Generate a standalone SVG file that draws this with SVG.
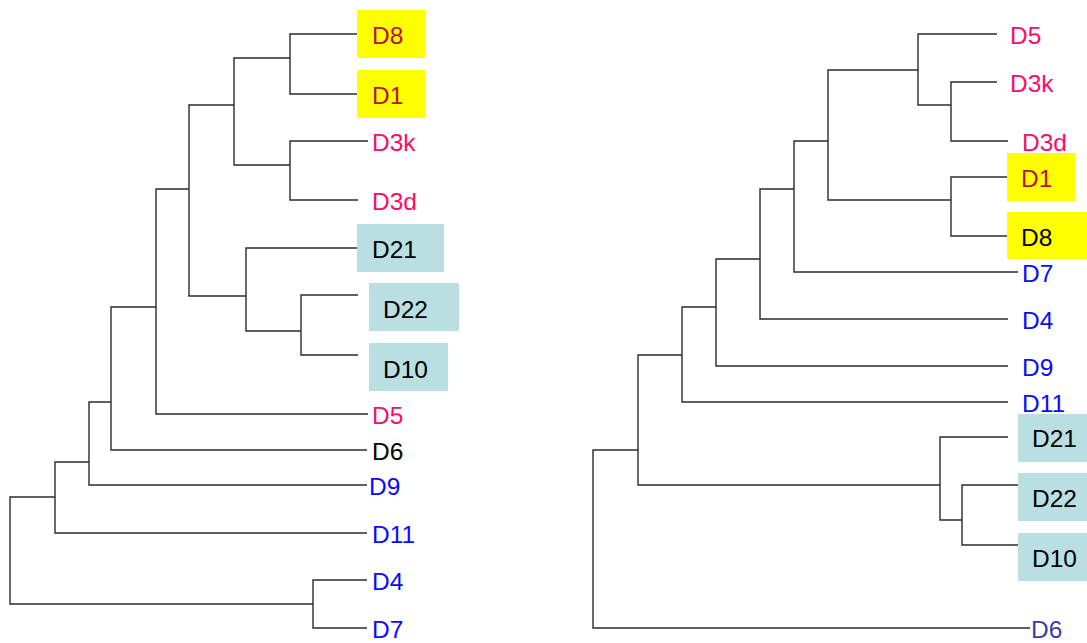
<svg xmlns="http://www.w3.org/2000/svg" width="1087" height="643" viewBox="0 0 1087 643">
  <style>
    .br { fill: none; stroke: #2b2b2b; stroke-width: 1.4; }
    text { font-family: "Liberation Sans", Arial, sans-serif; font-size: 24.5px; }
    .red { fill: #b8103c; }
    .pink { fill: #ff0a66; }
    .blue { fill: #0a0aff; }
    .black { fill: #000000; }
    .indigo { fill: #3b3bab; }
    .hy { fill: #ffff00; }
    .ht { fill: #b9dfe2; }
  </style>
  <rect width="1087" height="643" fill="#ffffff"/>

  <!-- left dendrogram: branches -->
  <g id="left-connectors">
    <path class="br" d="M357 34H290V94H357"/>
    <path class="br" d="M368 141H290V200H358"/>
    <path class="br" d="M290 58H234V165H290"/>
    <path class="br" d="M357 248H246V331H301"/>
    <path class="br" d="M358 295H301V355H358"/>
    <path class="br" d="M234 105H189V296H246"/>
    <path class="br" d="M189 189H156V414H368"/>
    <path class="br" d="M156 307H111V450H367"/>
    <path class="br" d="M111 402H89V485H367"/>
    <path class="br" d="M89 462H55V533H367"/>
    <path class="br" d="M55 497H10V604H313"/>
    <path class="br" d="M367 580H313V628H367"/>
  </g>

  <!-- left dendrogram: leaves -->
  <g id="L-D8"><rect class="hy" x="357" y="10" width="68" height="48"/><text class="red" x="372" y="44">D8</text></g>
  <g id="L-D1"><rect class="hy" x="357" y="70" width="68" height="48"/><text class="red" x="372" y="104">D1</text></g>
  <g id="L-D3k"><text class="pink" x="372" y="151">D3k</text></g>
  <g id="L-D3d"><text class="pink" x="372" y="210">D3d</text></g>
  <g id="L-D21"><rect class="ht" x="357" y="224" width="87" height="48"/><text class="black" x="372" y="258">D21</text></g>
  <g id="L-D22"><rect class="ht" x="369" y="283" width="90" height="48"/><text class="black" x="383" y="318">D22</text></g>
  <g id="L-D10"><rect class="ht" x="369" y="343" width="79" height="48"/><text class="black" x="383" y="378">D10</text></g>
  <g id="L-D5"><text class="pink" x="372" y="424">D5</text></g>
  <g id="L-D6"><text class="black" x="372" y="460">D6</text></g>
  <g id="L-D9"><text class="blue" x="369" y="495">D9</text></g>
  <g id="L-D11"><text class="blue" x="372" y="543">D11</text></g>
  <g id="L-D4"><text class="blue" x="372" y="590">D4</text></g>
  <g id="L-D7"><text class="blue" x="372" y="638">D7</text></g>

  <!-- right dendrogram: branches -->
  <g id="right-connectors">
    <path class="br" d="M997 82H951V141H1008"/>
    <path class="br" d="M997 34H918V105H951"/>
    <path class="br" d="M1008 177H951V236H1008"/>
    <path class="br" d="M918 70H828V200H951"/>
    <path class="br" d="M828 141H794V272H1018"/>
    <path class="br" d="M794 189H760V319H1008"/>
    <path class="br" d="M760 259H716V366H1008"/>
    <path class="br" d="M716 307H682V402H1008"/>
    <path class="br" d="M1018 485H962V545H1018"/>
    <path class="br" d="M1008 437H940V520H962"/>
    <path class="br" d="M682 355H638V485H940"/>
    <path class="br" d="M638 450H593V628H1030"/>
  </g>

  <!-- right dendrogram: leaves -->
  <g id="R-D5"><text class="pink" x="1010" y="44">D5</text></g>
  <g id="R-D3k"><text class="pink" x="1010" y="92">D3k</text></g>
  <g id="R-D3d"><text class="pink" x="1022" y="151">D3d</text></g>
  <g id="R-D1"><rect class="hy" x="1007" y="153" width="68" height="48"/><text class="red" x="1021" y="187">D1</text></g>
  <g id="R-D8"><rect class="hy" x="1007" y="212" width="80" height="47"/><text class="black" x="1021" y="246">D8</text></g>
  <g id="R-D7"><text class="blue" x="1022" y="282">D7</text></g>
  <g id="R-D4"><text class="blue" x="1022" y="329">D4</text></g>
  <g id="R-D9"><text class="blue" x="1022" y="376">D9</text></g>
  <g id="R-D11"><text class="blue" x="1022" y="412">D11</text></g>
  <g id="R-D21"><rect class="ht" x="1018" y="414" width="69" height="48"/><text class="black" x="1032" y="447">D21</text></g>
  <g id="R-D22"><rect class="ht" x="1018" y="473" width="69" height="48"/><text class="black" x="1032" y="507">D22</text></g>
  <g id="R-D10"><rect class="ht" x="1018" y="533" width="69" height="48"/><text class="black" x="1032" y="567">D10</text></g>
  <g id="R-D6"><text class="indigo" x="1031" y="638">D6</text></g>
</svg>
